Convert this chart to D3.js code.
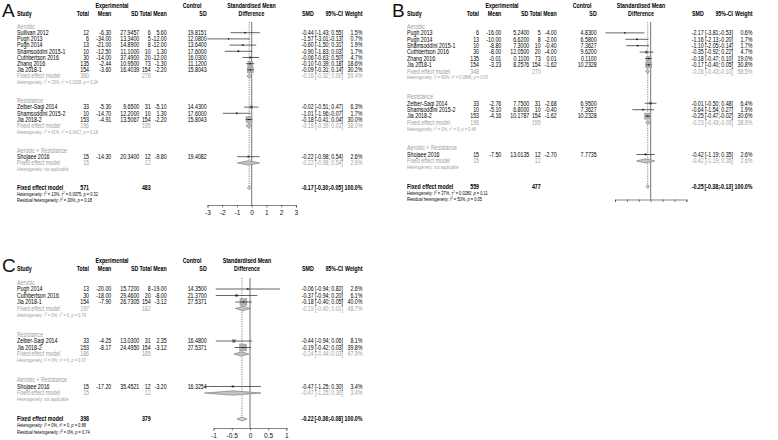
<!DOCTYPE html>
<html>
<head>
<meta charset="utf-8">
<script src="https://cdn.jsdelivr.net/npm/d3@7"></script>
<style>
body { margin: 0; background: #fff; }
svg { display: block; }
text { font-family: "Liberation Sans", Arial, sans-serif; }
</style>
</head>
<body>
<div id="chart"></div>
<script>
var groupNames = ["Aerobic", "Resistance", "Aerobic + Resistance"]

// ---- panel A ----
var studiesA = ["Sullivan 2012", "Pugh 2013", "Pugh 2014", "Shamsoddini 2015-1", "Cuthbertson 2016", "Zhang 2016", "Jia 2018-1",
    "Zelber-Sagi 2014", "Shamsoddini 2015-2", "Jia 2018-2", "Shojaee 2016"]
var groupA = [0, 0, 0, 0, 0, 0, 0, 1, 1, 1, 2]
var expA = [[12, -6.30, 27.9457], [6, -34.00, 13.3400], [13, -21.00, 14.8900], [10, -12.50, 11.1000], [30, -14.00, 37.4900],
    [135, -2.44, 10.9500], [154, -3.60, 16.4039], [33, -5.30, 9.6500], [10, -14.70, 12.2000], [153, -4.91, 13.5067], [15, -14.30, 20.3400]]
var ctlA = [[6, 5.60, 19.8151], [5, -12.00, 12.0800], [8, -12.00, 13.6400], [10, 1.30, 17.6000], [20, -12.00, 16.0300],
    [73, -1.30, 11.1200], [154, -2.20, 15.8043], [31, -5.10, 14.4300], [10, 1.30, 17.6000], [154, -2.20, 15.8043], [12, -9.80, 19.4082]]
var smdA = [[-0.44, -1.43, 0.55], [-1.57, -3.01, -0.13], [-0.60, -1.50, 0.31], [-0.90, -1.83, 0.03], [-0.06, -0.63, 0.50],
    [-0.10, -0.39, 0.18], [-0.09, -0.31, 0.14], [-0.02, -0.51, 0.47], [-1.01, -1.96, -0.07], [-0.18, -0.41, 0.04], [-0.22, -0.98, 0.54]]
var weightA = [1.5, 0.7, 1.9, 1.7, 4.7, 18.6, 30.2, 6.3, 1.7, 30.0, 2.6]
var subNA = [[360, 276], [196, 195], [15, 12]]
var subSmdA = [[-0.16, -0.32, 0.00], [-0.19, -0.39, 0.01], [-0.22, -0.98, 0.54]]
var subWeightA = [59.4, 38.0, 2.6]
var subHetA = [["25%", "0.0208", "0.24"], ["41%", "0.0417", "0.18"], null]
var totalNA = [571, 483]
var totalSmdA = [-0.17, -0.30, -0.05]
var totalHetA = ["13%", "0.0075", "0.32"]
var residA = ["30%", "0.18"]
var ticksA = [-3, -2, -1, 0, 1, 2, 3]

// ---- panel B ----
var studiesB = ["Pugh 2013", "Pugh 2014", "Shamsoddini 2015-1", "Cuthbertson 2016", "Zhang 2016", "Jia 2018-1",
    "Zelber-Sagi 2014", "Shamsoddini 2015-2", "Jia 2018-2", "Shojaee 2016"]
var groupB = [0, 0, 0, 0, 0, 0, 1, 1, 1, 2]
var expB = [[6, -16.00, 5.2400], [13, -10.00, 6.6200], [10, -8.80, 7.3000], [30, -8.00, 12.0500], [135, -0.01, 0.1100],
    [154, -3.23, 8.2576], [33, -2.76, 7.7500], [10, -5.10, 6.8000], [153, -4.16, 10.1787], [15, -7.50, 13.0135]]
var ctlB = [[5, -4.00, 4.8300], [8, -2.00, 6.5800], [10, -0.40, 7.3627], [20, -4.00, 9.6200], [73, 0.01, 0.1100],
    [154, -1.62, 10.2328], [31, -2.68, 6.9500], [10, -0.40, 7.3627], [154, -1.62, 10.2328], [12, -2.70, 7.7735]]
var smdB = [[-2.17, -3.81, -0.53], [-1.16, -2.13, -0.20], [-1.10, -2.05, -0.14], [-0.35, -0.92, 0.22], [-0.18, -0.47, 0.10],
    [-0.17, -0.40, 0.05], [-0.01, -0.50, 0.48], [-0.64, -1.54, 0.27], [-0.25, -0.47, -0.02], [-0.42, -1.19, 0.35]]
var weightB = [0.6, 1.7, 1.7, 4.7, 19.0, 30.8, 6.4, 1.9, 30.6, 2.6]
var subNB = [[348, 270], [196, 195], [15, 12]]
var subSmdB = [[-0.26, -0.43, -0.10], [-0.23, -0.43, -0.03], [-0.42, -1.19, 0.35]]
var subWeightB = [58.5, 38.9, 2.6]
var subHetB = [["60%", "0.0848", "0.03"], ["0%", "0", "0.46"], null]
var totalNB = [559, 477]
var totalSmdB = [-0.25, -0.38, -0.13]
var totalHetB = ["37%", "0.0280", "0.11"]
var residB = ["50%", "0.05"]
var ticksB = [-3, -2, -1, 0, 1, 2, 3]

// ---- panel C ----
var studiesC = ["Pugh 2014", "Cuthbertson 2016", "Jia 2018-1", "Zelber-Sagi 2014", "Jia 2018-2", "Shojaee 2016"]
var groupC = [0, 0, 0, 1, 1, 2]
var expC = [[13, -20.00, 15.7200], [30, -18.00, 29.4600], [154, -7.90, 26.7305], [33, -4.25, 13.0300], [153, -8.17, 24.4950], [15, -17.20, 35.4521]]
var ctlC = [[8, -19.00, 14.3500], [20, -8.00, 21.3700], [154, -3.12, 27.5371], [31, 2.35, 16.4800], [154, -3.12, 27.5371], [12, -3.20, 16.3254]]
var smdC = [[-0.06, -0.94, 0.82], [-0.37, -0.94, 0.20], [-0.18, -0.40, 0.05], [-0.44, -0.94, 0.06], [-0.19, -0.42, 0.03], [-0.47, -1.25, 0.30]]
var weightC = [2.6, 6.1, 40.0, 8.1, 39.8, 3.4]
var subNC = [[197, 182], [186, 185], [15, 12]]
var subSmdC = [[-0.19, -0.40, 0.01], [-0.24, -0.44, -0.03], [-0.47, -1.25, 0.30]]
var subWeightC = [48.7, 47.9, 3.4]
var subHetC = [["0%", "0", "0.79"], ["0%", "0", "0.37"], null]
var totalNC = [398, 379]
var totalSmdC = [-0.22, -0.36, -0.08]
var totalHetC = ["0%", "0", "0.88"]
var residC = ["0%", "0.74"]
var ticksC = [-1, -0.5, 0, 0.5, 1]


var W = 778, H = 440
var fs = 6.6, fsHet = 5.0, sx = 0.8
var grey = "#a0a0a0"
var loc = d3.formatLocale({decimal: ".", thousands: ",", grouping: [3], currency: ["", ""], minus: "-"})
var f2 = loc.format(".2f"), f4 = loc.format(".4f"), f1 = loc.format(".1f")

// column x positions (relative to panel left)
var col = {study: 17, nE: 89, meanE: 111.3, sdE: 139.3, nC: 150.7, meanC: 166.7, sdC: 206.7,
    smd: 313.7, ciL: 330, ci: 343, weight: 362.5}

var panels = [
    {letter: "A", ox: 0, oy: 0, rowTop: 26.5, h: 6.2, zero: 251.7, head: 251.5, axisY: 205, ticks: ticksA, unit: 14.75, labels: true, lineCol: "#666", lineW: 0.9,
        studies: studiesA, group: groupA, exp: expA, ctl: ctlA, smd: smdA, weight: weightA,
        subN: subNA, subSmd: subSmdA, subWeight: subWeightA, subHet: subHetA,
        totalN: totalNA, totalSmd: totalSmdA, totalHet: totalHetA, resid: residA},
    {letter: "B", ox: 390, oy: 0, rowTop: 26.5, h: 6.4, zero: 260.7, head: 251, axisY: 199.5, ticks: ticksB, unit: 11.9, labels: false, lineCol: "#666", lineW: 0.9,
        studies: studiesB, group: groupB, exp: expB, ctl: ctlB, smd: smdB, weight: weightB,
        subN: subNB, subSmd: subSmdB, subWeight: subWeightB, subHet: subHetB,
        totalN: totalNB, totalSmd: totalSmdB, totalHet: totalHetB, resid: residB},
    {letter: "C", ox: 0, oy: 255, rowTop: 27.5, h: 6.5, zero: 250, head: 247, axisY: 173, ticks: ticksC, unit: 36.4, labels: true, lineCol: "#9a9a9a", lineW: 1.4,
        studies: studiesC, group: groupC, exp: expC, ctl: ctlC, smd: smdC, weight: weightC,
        subN: subNC, subSmd: subSmdC, subWeight: subWeightC, subHet: subHetC,
        totalN: totalNC, totalSmd: totalSmdC, totalHet: totalHetC, resid: residC}
]

var svg = d3.select("#chart").append("svg")
    .attr("width", W)
    .attr("height", H)

function buildRows(p) {
    var rows = [], r = 0
    groupNames.forEach(function(gname, gi) {
        rows.push({kind: "label", gi: gi, r: r++})
        p.studies.forEach(function(s, i) {
            if (p.group[i] === gi) rows.push({kind: "study", i: i, r: r++})
        })
        rows.push({kind: "sub", gi: gi, r: r++})
        rows.push({kind: "subhet", gi: gi, r: r++})
        r += 2
    })
    rows.push({kind: "overall", r: r++})
    rows.push({kind: "het", r: r++})
    rows.push({kind: "resid", r: r++})
    return rows
}

// text squeezed horizontally, like the narrow type of the original
function txt(g, x, y, s, anchor, opts) {
    opts = opts || {}
    return g.append("text")
        .attr("transform", "translate(" + x + "," + y + ") scale(" + sx + ",1)")
        .attr("dy", "0.35em")
        .attr("text-anchor", anchor || "start")
        .attr("font-size", opts.size || fs)
        .attr("font-weight", opts.bold ? "bold" : null)
        .attr("fill", opts.fill || "#000")
        .text(s)
}

function hetText(g, x, y, vals, kind, color) {
    var t = g.append("text")
        .attr("transform", "translate(" + x + "," + y + ") scale(" + sx + ",1)")
        .attr("dy", "0.35em")
        .attr("font-size", fsHet)
        .attr("fill", color)
    if (!vals) { t.text("Heterogeneity: not applicable"); return }
    t.append("tspan").text(kind === "resid" ? "Residual heterogeneity: " : "Heterogeneity: ")
    t.append("tspan").attr("font-style", "italic").text("I")
    t.append("tspan").attr("dy", -1.7).attr("font-size", fsHet * 0.7).text("2")
    t.append("tspan").attr("dy", 1.7).text(" = " + vals[0] + ", ")
    if (kind !== "resid") {
        t.append("tspan").attr("font-style", "italic").text("\u03c4")
        t.append("tspan").attr("dy", -1.7).attr("font-size", fsHet * 0.7).text("2")
        t.append("tspan").attr("dy", 1.7).text(" = " + vals[1] + ", ")
    }
    t.append("tspan").attr("font-style", "italic").text("p")
    t.append("tspan").text(" = " + vals[vals.length - 1])
}

function ciText(g, y, v, opts) {
    txt(g, col.smd, y, f2(v[0]), "end", opts)
    txt(g, col.ciL, y, "[" + f2(v[1]) + ";", "end", opts)
    txt(g, col.ci, y, f2(v[2]) + "]", "end", opts)
}

function diamond(g, x, v, y, hh, fill, stroke) {
    var pts = [[x(v[1]), y], [x(v[0]), y - hh], [x(v[2]), y], [x(v[0]), y + hh]]
    g.append("path")
        .attr("d", d3.line()(pts) + "Z")
        .attr("fill", fill)
        .attr("stroke", stroke)
        .attr("stroke-width", 0.6)
}

panels.forEach(function(p) {
    var g = svg.append("g").attr("transform", "translate(" + p.ox + "," + p.oy + ")")
    var rows = buildRows(p)
    var y = function(r) { return p.rowTop + r * p.h }
    var ext = d3.extent(p.ticks)
    var x = d3.scaleLinear()
        .domain(ext)
        .range([p.zero + ext[0] * p.unit, p.zero + ext[1] * p.unit])
    var sq = d3.scaleSqrt().domain([0, 30]).range([0, 6])

    // panel letter
    g.append("text")
        .attr("x", 2)
        .attr("y", 17)
        .attr("font-size", 19)
        .attr("fill", "#111")
        .text(p.letter)

    // headers
    var h1 = 5.5, h2 = 13.5, b = {bold: true}
    txt(g, 112, h1, "Experimental", "middle", b)
    txt(g, 192, h1, "Control", "middle", b)
    txt(g, p.head, h1, "Standardised Mean", "middle", b)
    txt(g, p.head, h2, "Difference", "middle", b)
    txt(g, col.study, h2, "Study", "start", b)
    txt(g, col.nE, h2, "Total", "end", b)
    txt(g, col.meanE, h2, "Mean", "end", b)
    txt(g, col.sdE - 1, h2, "SD", "end", b)
    txt(g, col.nC + 1, h2, "Total", "end", b)
    txt(g, col.meanC, h2, "Mean", "end", b)
    txt(g, col.sdC, h2, "SD", "end", b)
    txt(g, col.smd, h2, "SMD", "end", b)
    txt(g, col.ci, h2, "95%-CI", "end", b)
    txt(g, col.weight, h2, "Weight", "end", b)

    var overallRow = rows.filter(function(d) { return d.kind === "overall" })[0]
    var yOverall = y(overallRow.r)
    var yTop = p.rowTop - 4.5

    // reference lines
    g.append("line")
        .attr("x1", x(0)).attr("x2", x(0))
        .attr("y1", yTop).attr("y2", p.axisY)
        .attr("stroke", p.lineCol)
        .attr("stroke-width", p.lineW)
    g.append("line")
        .attr("x1", x(p.totalSmd[0])).attr("x2", x(p.totalSmd[0]))
        .attr("y1", yTop).attr("y2", yOverall)
        .attr("stroke", "#555")
        .attr("stroke-width", 0.7)
        .attr("stroke-dasharray", "1.2,1.2")

    rows.forEach(function(d) {
        var yy = y(d.r)
        if (d.kind === "label") {
            txt(g, col.study, yy, groupNames[d.gi], "start", {fill: grey})
        } else if (d.kind === "study") {
            var i = d.i
            txt(g, col.study, yy, p.studies[i])
            txt(g, col.nE, yy, p.exp[i][0], "end")
            txt(g, col.meanE, yy, f2(p.exp[i][1]), "end")
            txt(g, col.sdE, yy, f4(p.exp[i][2]), "end")
            txt(g, col.nC, yy, p.ctl[i][0], "end")
            txt(g, col.meanC, yy, f2(p.ctl[i][1]), "end")
            txt(g, col.sdC, yy, f4(p.ctl[i][2]), "end")
            ciText(g, yy, p.smd[i])
            txt(g, col.weight, yy, f1(p.weight[i]) + "%", "end")
            var s = sq(p.weight[i])
            g.append("rect")
                .attr("x", x(p.smd[i][0]) - s / 2)
                .attr("y", yy - s / 2)
                .attr("width", s)
                .attr("height", s)
                .attr("fill", "#b0b0b0")
                .attr("stroke", "#8a8a8a")
                .attr("stroke-width", 0.4)
            g.append("line")
                .attr("x1", x(p.smd[i][1])).attr("x2", x(p.smd[i][2]))
                .attr("y1", yy).attr("y2", yy)
                .attr("stroke", "#222")
                .attr("stroke-width", 0.7)
            g.append("line")
                .attr("x1", x(p.smd[i][0]) - 0.6).attr("x2", x(p.smd[i][0]) + 0.6)
                .attr("y1", yy).attr("y2", yy)
                .attr("stroke", "#000")
                .attr("stroke-width", 1)
        } else if (d.kind === "sub") {
            var o = {fill: grey}
            txt(g, col.study, yy, "Fixed effect model", "start", o)
            txt(g, col.nE, yy, p.subN[d.gi][0], "end", o)
            txt(g, col.nC, yy, p.subN[d.gi][1], "end", o)
            ciText(g, yy, p.subSmd[d.gi], o)
            txt(g, col.weight, yy, f1(p.subWeight[d.gi]) + "%", "end", o)
            diamond(g, x, p.subSmd[d.gi], yy, 2.2, "#c4c4c4", "#707070")
        } else if (d.kind === "subhet") {
            hetText(g, col.study, yy, p.subHet[d.gi], "het", grey)
        } else if (d.kind === "overall") {
            var ob = {bold: true}
            txt(g, col.study, yy, "Fixed effect model", "start", ob)
            txt(g, col.nE, yy, p.totalN[0], "end", ob)
            txt(g, col.nC, yy, p.totalN[1], "end", ob)
            ciText(g, yy, p.totalSmd, ob)
            txt(g, col.weight, yy, "100.0%", "end", ob)
            diamond(g, x, p.totalSmd, yy, 2, "#d0d0d0", "#707070")
        } else if (d.kind === "het") {
            hetText(g, col.study, yy, p.totalHet, "het", "#000")
        } else if (d.kind === "resid") {
            hetText(g, col.study, yy, p.resid, "resid", "#000")
        }
    })

    // x axis
    var axis = d3.axisBottom(x)
        .tickValues(p.ticks)
        .tickSize(2.5)
        .tickFormat(p.labels ? loc.format("") : "")
    var ag = g.append("g")
        .attr("transform", "translate(0," + p.axisY + ")")
        .call(axis)
    ag.select(".domain").attr("stroke", "#333").attr("stroke-width", 0.6)
    ag.selectAll(".tick line").attr("stroke", "#333").attr("stroke-width", 0.6)
    ag.selectAll(".tick text")
        .attr("font-size", fs)
        .attr("font-family", "Liberation Sans, Arial, sans-serif")
        .attr("fill", "#111")
        .attr("y", 5)
})
</script>
</body>
</html>
